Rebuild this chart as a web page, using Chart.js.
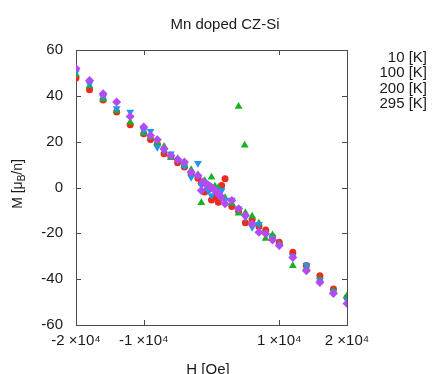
<!DOCTYPE html>
<html>
<head>
<meta charset="utf-8">
<script src="https://cdn.jsdelivr.net/npm/chart.js@4/dist/chart.umd.min.js"></script>
<style>
  html, body { margin: 0; padding: 0; background: #fff; }
  #wrap { width: 432px; height: 374px; }
</style>
</head>
<body>
<div id="wrap"><canvas id="chart" width="432" height="374"></canvas></div>
<script>
// field values H [Oe] shared by 10 K, 100 K and 200 K runs
const fieldOe = [-20000, -18000, -16000, -14000, -12000, -10000, -9000, -8000, -7000, -6000,
  -5000, -4000, -3000, -2000, -1500, -1000, -500, 0, 500, 1000, 1500, 2000, 3000, 4000, 5000,
  6000, 7000, 8000, 9000, 10000, 12000, 14000, 16000, 18000, 20000];

const moment10K = [47.8, 42.7, 38.2, 32.9, 27.4, 23.5, 21.0, 19.0, 14.7, 13.5,
  10.8, 9.0, 6.0, 4.0, 2.0, -2.0, -1.0, -5.5, -4.0, -6.4, 0.9, 3.8, -8.3, -10.5, -15.4,
  -14.0, -17.0, -18.5, -21.5, -23.9, -28.3, -34.0, -38.5, -44.3, -48.0];

const moment100K = [49.4, 44.3, 38.5, 33.5, 28.5, 23.7, 22.0, 19.5, 17.9, 13.0,
  12.5, 9.5, 7.7, 5.5, -6.7, 3.0, 1.0, 4.5, 0.5, 0.0, -4.2, -4.5, -7.0, -11.2, -11.0,
  -12.5, -15.6, -22.2, -20.7, -24.5, -34.1, -35.0, -40.0, -45.0, -47.2];

// two stray 100 K points
const fieldOe100KExtra = [4000, 4900];
const moment100KExtra = [35.4, 18.4];

const moment200K = [50.4, 45.3, 39.5, 34.5, 32.9, 24.9, 24.6, 17.6, 16.0, 14.7,
  12.0, 9.5, 4.5, 10.6, 1.0, 2.0, -1.3, -3.5, -1.0, -2.0, -1.3, -5.7, -5.5, -9.3, -13.0,
  -17.3, -16.0, -20.0, -22.0, -25.3, -30.0, -33.8, -40.5, -45.5, -49.0];

// 295 K run has a finer step around zero field
const fieldOe295K = [-20000, -18000, -16000, -14000, -12000, -10000, -9000, -8000, -7000, -6000,
  -5000, -4000, -3000, -2000, -1500, -1250, -1000, -750, -500, -250, 0, 250, 500, 750, 1000,
  1250, 1500, 2000, 3000, 4000, 5000, 6000, 7000, 8000, 9000, 10000, 12000, 14000, 16000, 18000, 20000];
const moment295K = [51.9, 46.7, 40.9, 37.3, 31.0, 26.4, 22.7, 20.8, 16.9, 14.0,
  12.2, 11.1, 6.7, 5.2, -1.3, 2.5, 1.8, 1.5, 1.0, 0.5, 0.0, -0.5, -1.0, -2.0, -2.5,
  -3.5, -4.5, -7.1, -5.7, -9.3, -12.2, -15.9, -19.5, -20.2, -22.9, -25.3, -30.5, -36.3, -41.4, -46.2, -50.6];

const seriesLabels = ['10 [K]', '100 [K]', '200 [K]', '295 [K]'];
const xTickValues = [-20000, -10000, 10000, 20000];
const yTickValues = [-60, -40, -20, 0, 20, 40, 60];

const FONT = '"Liberation Sans", Arial, Helvetica, sans-serif';

function pairs(xs, ys) {
  return xs.map((x, i) => ({ x: x, y: ys[i] }));
}

// frame + inward ticks on all four sides, like gnuplot
const framePlugin = {
  id: 'frame',
  beforeDatasetsDraw(chart) {
    const { ctx, chartArea: a, scales } = chart;
    ctx.save();
    ctx.strokeStyle = '#4a4a4a';
    ctx.lineWidth = 1;
    ctx.strokeRect(Math.round(a.left) + 0.5, Math.round(a.top) + 0.5,
      Math.round(a.right - a.left), Math.round(a.bottom - a.top));
    ctx.beginPath();
    xTickValues.forEach(v => {
      const px = Math.round(scales.x.getPixelForValue(v)) + 0.5;
      ctx.moveTo(px, a.bottom); ctx.lineTo(px, a.bottom - 5);
      ctx.moveTo(px, a.top); ctx.lineTo(px, a.top + 5);
    });
    yTickValues.forEach(v => {
      const py = Math.round(scales.y.getPixelForValue(v)) + 0.5;
      ctx.moveTo(a.left, py); ctx.lineTo(a.left + 5, py);
      ctx.moveTo(a.right, py); ctx.lineTo(a.right - 5, py);
    });
    ctx.stroke();
    ctx.restore();
  },
  afterDraw(chart) {
    const { ctx } = chart;
    ctx.save();
    ctx.fillStyle = '#1a1a1a';

    // title
    ctx.font = '15px ' + FONT;
    ctx.textAlign = 'center';
    ctx.textBaseline = 'middle';
    ctx.fillText('Mn doped CZ-Si', 225, 25);

    // legend, text only, right aligned
    ctx.font = '15px ' + FONT;
    ctx.textAlign = 'right';
    chart.data.datasets.forEach((ds, i) => {
      ctx.fillText(ds.label, 427, 58 + i * 15.3);
    });

    // x axis title
    ctx.textAlign = 'center';
    ctx.textBaseline = 'top';
    ctx.font = '15px ' + FONT;
    ctx.fillText('H [Oe]', 208, 362);

    // y axis title with subscript B
    ctx.translate(18, 184);
    ctx.rotate(-Math.PI / 2);
    ctx.textAlign = 'left';
    ctx.textBaseline = 'middle';
    const big = '14px ' + FONT, small = '10px ' + FONT;
    ctx.font = big; const w1 = ctx.measureText('M [\u03bc').width;
    ctx.font = small; const w2 = ctx.measureText('B').width;
    ctx.font = big; const w3 = ctx.measureText('/n]').width;
    let x0 = -(w1 + w2 + w3) / 2;
    ctx.font = big; ctx.fillText('M [\u03bc', x0, 0);
    ctx.font = small; ctx.fillText('B', x0 + w1, 4);
    ctx.font = big; ctx.fillText('/n]', x0 + w1 + w2, 0);
    ctx.restore();
  }
};

const ctx = document.getElementById('chart').getContext('2d');
const chart = new Chart(ctx, {
  type: 'scatter',
  data: {
    datasets: [
      {
        label: seriesLabels[0],
        data: pairs(fieldOe, moment10K),
        pointStyle: 'circle', pointRadius: 3.5,
        backgroundColor: '#ee2a1c', borderColor: '#ee2a1c', borderWidth: 0,
        order: 4
      },
      {
        label: seriesLabels[1],
        data: pairs(fieldOe, moment100K).concat(pairs(fieldOe100KExtra, moment100KExtra)),
        pointStyle: 'triangle', pointRadius: 4.5,
        backgroundColor: '#14b41e', borderColor: '#14b41e', borderWidth: 0,
        order: 3
      },
      {
        label: seriesLabels[2],
        data: pairs(fieldOe, moment200K),
        pointStyle: 'triangle', rotation: 180, pointRadius: 4.5,
        backgroundColor: '#1f96f0', borderColor: '#1f96f0', borderWidth: 0,
        order: 2
      },
      {
        label: seriesLabels[3],
        data: pairs(fieldOe295K, moment295K),
        pointStyle: 'rectRot', pointRadius: 4.5,
        backgroundColor: '#b24cf2', borderColor: '#b24cf2', borderWidth: 0,
        order: 1
      }
    ]
  },
  options: {
    responsive: false,
    animation: false,
    layout: { padding: { top: 50, right: 85, left: 0, bottom: 0 } },
    plugins: {
      legend: { display: false },
      title: { display: false },
      tooltip: { enabled: false }
    },
    scales: {
      x: {
        type: 'linear',
        min: -20000, max: 20000,
        afterBuildTicks: s => { s.ticks = xTickValues.map(v => ({ value: v })); },
        afterFit: s => { s.height = 49; },
        grid: { display: false, drawTicks: false },
        border: { display: false },
        ticks: {
          autoSkip: false, maxRotation: 0, padding: 7,
          color: '#1a1a1a',
          font: { family: FONT, size: 15 },
          callback: v => (v / 10000) + ' \u00d710\u2074'
        }
      },
      y: {
        type: 'linear',
        min: -60, max: 60,
        afterBuildTicks: s => { s.ticks = yTickValues.map(v => ({ value: v })); },
        afterFit: s => { s.width = 76; },
        grid: { display: false, drawTicks: false },
        border: { display: false },
        ticks: {
          padding: 13,
          color: '#1a1a1a',
          font: { family: FONT, size: 15 }
        }
      }
    }
  },
  plugins: [framePlugin]
});
</script>
</body>
</html>
